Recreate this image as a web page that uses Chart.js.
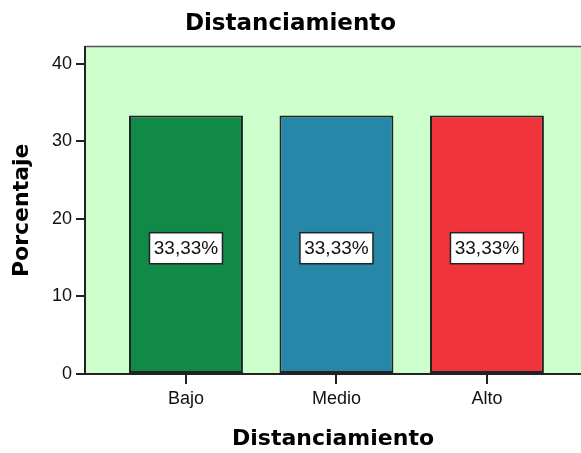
<!DOCTYPE html>
<html lang="es">
<head>
<meta charset="utf-8">
<title>Distanciamiento</title>
<script src="https://cdn.jsdelivr.net/npm/chart.js@4.4.1/dist/chart.umd.min.js"></script>
<style>
    html, body { margin: 0; padding: 0; background: #ffffff; overflow: hidden; }
    #contenedor { width: 581px; height: 453px; }
</style>
</head>
<body>
<div id="contenedor">
    <canvas id="myChart" width="581" height="453"></canvas>
</div>
<script>
// Datos del gráfico
const categorias = ['Bajo', 'Medio', 'Alto'];
const porcentajes = [33.33, 33.33, 33.33];
const coloresBarras = ['#118a48', '#2687a8', '#f0343c'];
const ticksY = [0, 10, 20, 30, 40];

// Fondo verde del área de trazado y borde superior
const fondoArea = {
    id: 'fondoArea',
    beforeDraw(chart) {
        const { ctx, chartArea: a } = chart;
        ctx.save();
        ctx.fillStyle = '#ccffcc';
        ctx.fillRect(a.left, a.top, a.right - a.left, a.bottom - a.top);
        ctx.strokeStyle = '#555555';
        ctx.lineWidth = 1.5;
        ctx.beginPath();
        ctx.moveTo(a.left, a.top);
        ctx.lineTo(a.right, a.top);
        ctx.stroke();
        ctx.restore();
    }
};

// Etiquetas con el porcentaje dentro de cada barra
const etiquetasValor = {
    id: 'etiquetasValor',
    afterDatasetsDraw(chart) {
        const { ctx } = chart;
        const meta = chart.getDatasetMeta(0);
        ctx.save();
        ctx.font = '19px "Liberation Sans", Arial, sans-serif';
        ctx.textAlign = 'center';
        ctx.textBaseline = 'middle';
        meta.data.forEach((bar, i) => {
            const texto = porcentajes[i].toFixed(2).replace('.', ',') + '%';
            const cx = bar.x;
            const cy = (bar.y + bar.base) / 2 + 4;
            const w = 73, h = 31;
            ctx.fillStyle = '#ffffff';
            ctx.fillRect(cx - w / 2, cy - h / 2, w, h);
            ctx.strokeStyle = '#222222';
            ctx.lineWidth = 1.5;
            ctx.strokeRect(cx - w / 2, cy - h / 2, w, h);
            ctx.fillStyle = '#111111';
            ctx.fillText(texto, cx, cy + 1);
        });
        ctx.restore();
    }
};

const ctx = document.getElementById('myChart').getContext('2d');

const myChart = new Chart(ctx, {
    type: 'bar',
    data: {
        datasets: [{
            label: 'Porcentaje',
            data: porcentajes.map((v, i) => ({ x: i, y: v })),
            backgroundColor: coloresBarras,
            borderColor: '#222222',
            borderWidth: 2,
            borderSkipped: false,
            categoryPercentage: 1,
            barPercentage: 0.757
        }]
    },
    options: {
        responsive: false,
        animation: false,
        devicePixelRatio: 1,
        layout: { padding: 0 },
        plugins: {
            legend: { display: false },
            tooltip: { enabled: false },
            title: {
                display: true,
                text: 'Distanciamiento',
                color: '#000000',
                font: { family: '"DejaVu Sans", sans-serif', size: 23, weight: 'bold' },
                padding: { top: 10, bottom: 9 }
            }
        },
        scales: {
            x: {
                type: 'linear',
                offset: false,
                min: -0.671,
                max: 2.625,
                afterBuildTicks: scale => {
                    scale.ticks = categorias.map((c, i) => ({ value: i }));
                },
                afterFit: scale => { scale.height = 79; },
                ticks: {
                    callback: value => categorias[value],
                    color: '#111111',
                    font: { family: '"Liberation Sans", Arial, sans-serif', size: 18 },
                    padding: 4,
                    maxRotation: 0
                },
                grid: {
                    offset: false,
                    drawOnChartArea: false,
                    drawTicks: true,
                    tickLength: 10,
                    color: '#222222',
                    lineWidth: 2
                },
                border: { display: true, color: '#222222', width: 2 },
                title: {
                    display: true,
                    text: 'Distanciamiento',
                    color: '#000000',
                    font: { family: '"DejaVu Sans", sans-serif', size: 22, weight: 'bold' },
                    padding: { top: 0, bottom: 1 }
                }
            },
            y: {
                min: 0,
                max: 42.2,
                afterBuildTicks: scale => {
                    scale.ticks = ticksY.map(v => ({ value: v }));
                },
                afterFit: scale => { scale.width = 85; },
                ticks: {
                    color: '#111111',
                    font: { family: '"Liberation Sans", Arial, sans-serif', size: 18 },
                    padding: 4
                },
                grid: {
                    drawOnChartArea: false,
                    drawTicks: true,
                    tickLength: 9,
                    color: '#222222',
                    lineWidth: 2
                },
                border: { display: true, color: '#222222', width: 2 },
                title: {
                    display: true,
                    text: 'Porcentaje',
                    color: '#000000',
                    font: { family: '"DejaVu Sans", sans-serif', size: 22, weight: 'bold' },
                    padding: { top: 9, bottom: 0 }
                }
            }
        }
    },
    plugins: [fondoArea, etiquetasValor]
});
</script>
</body>
</html>
